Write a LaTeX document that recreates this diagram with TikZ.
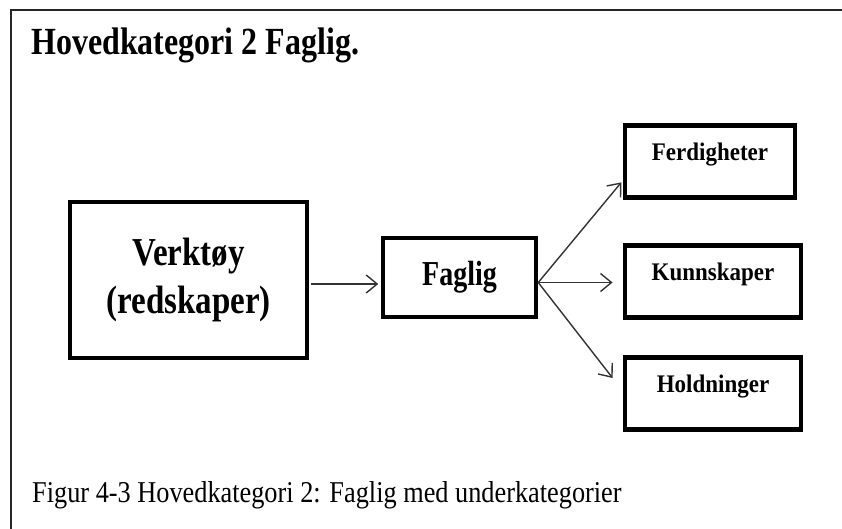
\documentclass[tikz,border=0pt]{standalone}
\usepackage{fontspec}
\setmainfont{Liberation Serif}
\usepackage{graphicx}
\usetikzlibrary{arrows.meta, positioning, calc}

\newcommand{\tallfont}[2]{\scalebox{1}[#1]{#2}}
\newcommand{\sublabel}[1]{\tallfont{1.1}{\fontsize{23}{28}\selectfont\bfseries #1}}

\begin{document}
\begin{tikzpicture}[x=1pt, y=-1pt,
    box/.style={draw, line width=4.8pt, inner sep=0pt},
    sub/.style={box, minimum height=72.5pt, text depth=20pt},
    arr/.style={-{Straight Barb[length=11pt, width=18pt, line width=1.4pt]}, line width=1.4pt, draw=black!80},
    frame/.style={line width=2pt, draw=black!85}]
    \useasboundingbox (0,0) rectangle (842,529);
    \draw[frame] (842,10) -- (11,10) -- (11,529);

    \node[anchor=base west, inner sep=0pt] (title) at (31,55) {\tallfont{1.2}{\fontsize{32}{38}\selectfont\bfseries Hovedkategori 2 Faglig.}};

    \node[box, minimum width=237pt, minimum height=156pt] (verk) at (188.5,280) {\tallfont{1.2}{\fontsize{33}{40}\selectfont\bfseries\begin{tabular}{@{}c@{}}Verktøy\\(redskaper)\end{tabular}}};
    \node[box, line width=4.5pt, minimum width=153pt, minimum height=79pt] (fag) at (459.5,277.5) {\tallfont{1.25}{\fontsize{28}{34}\selectfont\bfseries Faglig}};

    \node[sub, minimum width=170pt] (ferd) at (710,161.5) {\sublabel{Ferdigheter}};
    \node[sub, minimum width=176pt] (kunn) at (713,281.5) {\sublabel{Kunnskaper}};
    \node[sub, minimum width=176pt] (hold) at (713,393.5) {\sublabel{Holdninger}};

    \draw[arr] ($(verk.east)+(2,4)$) -- ($(verk.east -| fag.west)+(-2.5,4)$);

    \coordinate (split) at ($(fag.east)+(0,5)$);
    \draw[arr, shorten >=2pt] (split) -- ($(ferd.south west)!0.25!(ferd.north west)$);
    \draw[arr] (split) -- ($(split -| kunn.west)+(-10,0)$);
    \draw[arr] (split) -- ($(hold.west)+(-10,-15.5)$);

    \node[anchor=base west, inner sep=0pt] (caption) at (32,502) {\tallfont{1.15}{\fontsize{26.3}{32}\selectfont Figur 4-3 Hovedkategori 2: Faglig med underkategorier}};
\end{tikzpicture}
\end{document}
